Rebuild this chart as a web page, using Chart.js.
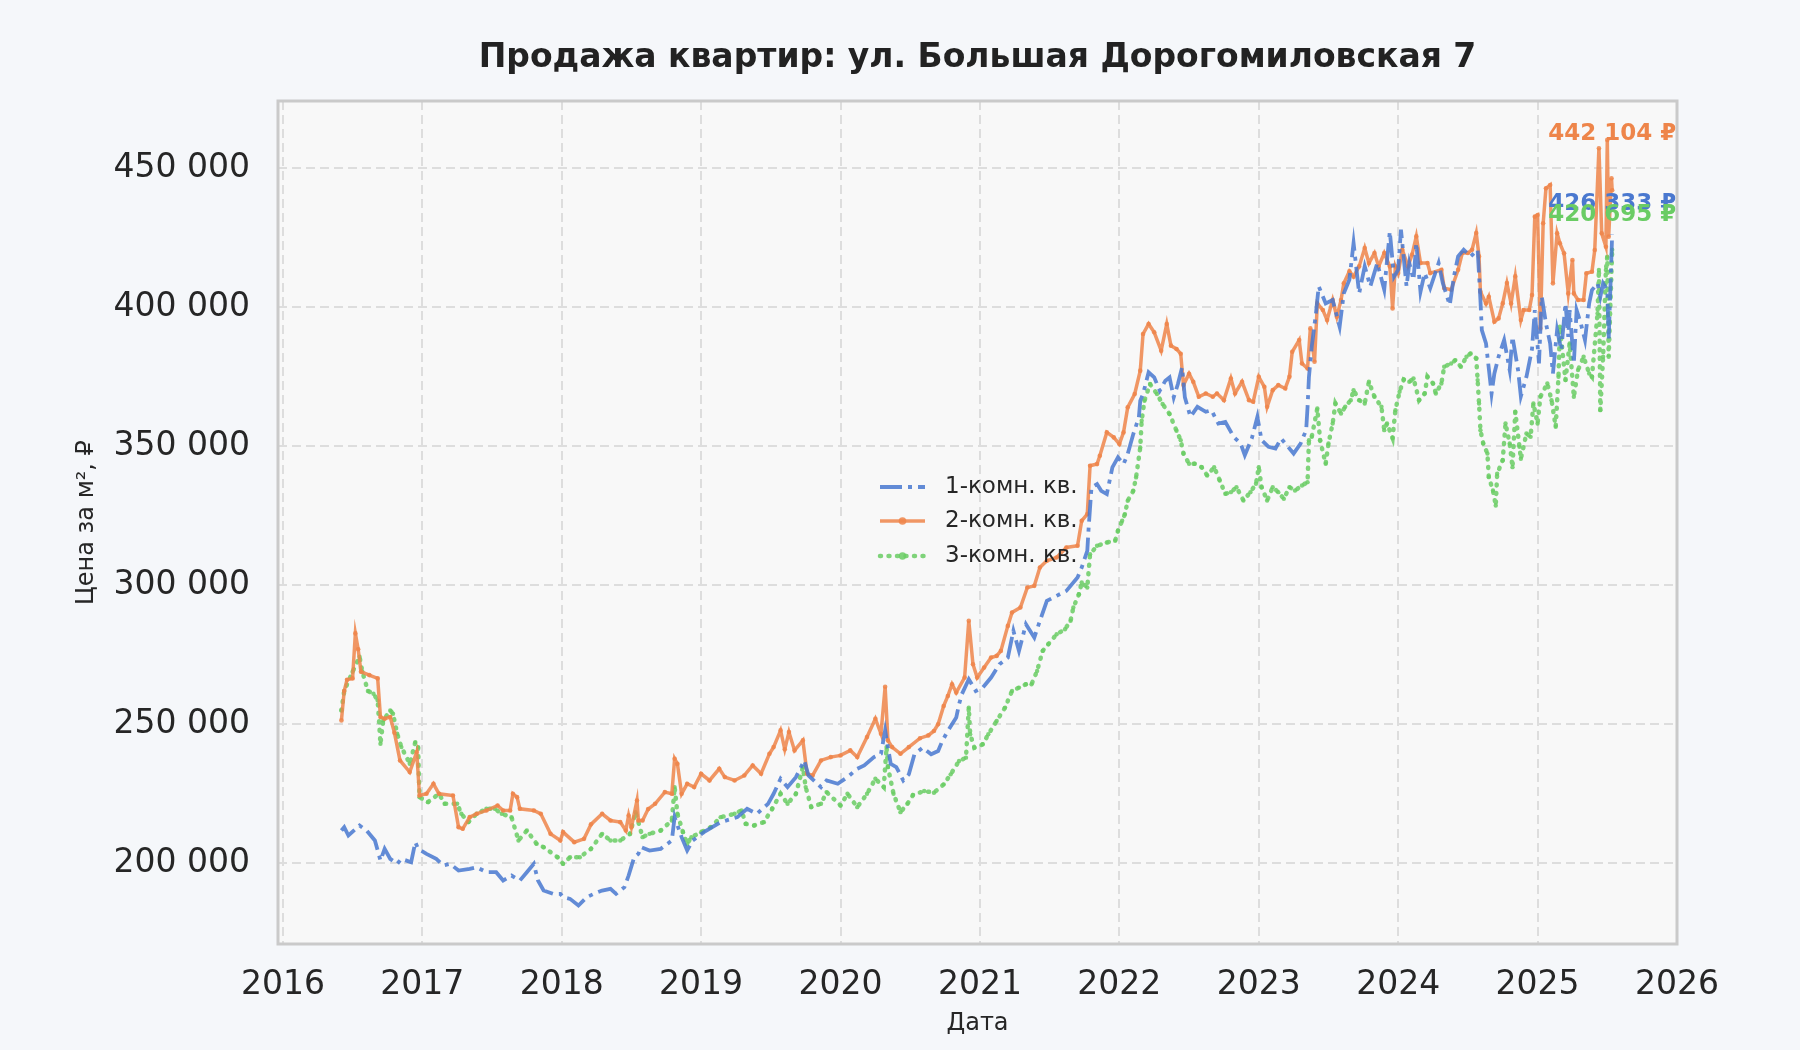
<!DOCTYPE html>
<html lang="ru">
<head>
<meta charset="utf-8">
<title>Продажа квартир</title>
<script src="https://cdn.jsdelivr.net/npm/chart.js@4.4.1/dist/chart.umd.min.js"></script>
<style>
  html, body { margin: 0; padding: 0; background: #f5f7fa; }
  #wrap { width: 1800px; height: 1050px; }
</style>
</head>
<body>
<div id="wrap"><canvas id="priceChart" width="1800" height="1050"></canvas></div>
<script>
// ================= DATA =================
const chartTitle = "Продажа квартир: ул. Большая Дорогомиловская 7";
const seriesLabels = ["1-комн. кв.", "2-комн. кв.", "3-комн. кв."];

const yearTicks = [2016, 2017, 2018, 2019, 2020, 2021, 2022, 2023, 2024, 2025, 2026];
const priceTicks = [200000, 250000, 300000, 350000, 400000, 450000];

// 1-комн.
const oneRoomYears = [
  2016.42, 2016.44, 2016.47, 2016.55, 2016.60, 2016.66, 2016.70, 2016.73, 2016.77, 2016.82,
  2016.85, 2016.92, 2016.95, 2016.97, 2017.03, 2017.10, 2017.15, 2017.20, 2017.26, 2017.34,
  2017.39, 2017.46, 2017.53, 2017.58, 2017.64, 2017.70, 2017.75, 2017.80, 2017.83, 2017.87,
  2017.94, 2017.99, 2018.01, 2018.06, 2018.12, 2018.18, 2018.23, 2018.29, 2018.35, 2018.39,
  2018.45, 2018.48, 2018.52, 2018.55, 2018.57, 2018.63, 2018.71, 2018.79, 2018.81, 2018.86,
  2018.90, 2018.94, 2019.02, 2019.14, 2019.26, 2019.33, 2019.40, 2019.48, 2019.52, 2019.57,
  2019.62, 2019.68, 2019.74, 2019.77, 2019.86, 2019.90, 2019.98, 2020.05, 2020.12, 2020.17,
  2020.24, 2020.29, 2020.32, 2020.36, 2020.40, 2020.45, 2020.49, 2020.53, 2020.59, 2020.65,
  2020.70, 2020.73, 2020.77, 2020.83, 2020.85, 2020.87, 2020.92, 2020.97, 2021.02, 2021.08,
  2021.14, 2021.20, 2021.24, 2021.28, 2021.33, 2021.39, 2021.43, 2021.48, 2021.55, 2021.62,
  2021.70, 2021.73, 2021.77, 2021.78, 2021.80, 2021.84, 2021.87, 2021.91, 2021.95, 2021.99,
  2022.03, 2022.06, 2022.10, 2022.14, 2022.15, 2022.17, 2022.21, 2022.25, 2022.29, 2022.33,
  2022.36, 2022.39, 2022.42, 2022.45, 2022.47, 2022.51, 2022.56, 2022.62, 2022.66, 2022.71,
  2022.76, 2022.82, 2022.87, 2022.90, 2022.95, 2022.99, 2023.02, 2023.07, 2023.12, 2023.16,
  2023.20, 2023.25, 2023.30, 2023.34, 2023.35, 2023.36, 2023.38, 2023.41, 2023.43, 2023.48,
  2023.53, 2023.58, 2023.61, 2023.65, 2023.68, 2023.72, 2023.76, 2023.80, 2023.85, 2023.90,
  2023.94, 2023.97, 2024.00, 2024.02, 2024.06, 2024.08, 2024.11, 2024.13, 2024.16, 2024.19,
  2024.23, 2024.29, 2024.32, 2024.37, 2024.40, 2024.43, 2024.47, 2024.52, 2024.57, 2024.59,
  2024.60, 2024.63, 2024.67, 2024.69, 2024.72, 2024.76, 2024.80, 2024.82, 2024.86, 2024.88,
  2024.92, 2024.96, 2024.98, 2025.01, 2025.03, 2025.06, 2025.09, 2025.11, 2025.14, 2025.17,
  2025.20, 2025.22, 2025.23, 2025.26, 2025.28, 2025.31, 2025.34, 2025.37, 2025.39, 2025.43,
  2025.45, 2025.47, 2025.50, 2025.51, 2025.535
];
const oneRoomPrices = [
  211800, 213000, 210000, 213600, 211800, 208200, 201000, 205200, 201600, 199800,
  201600, 200400, 207600, 205200, 203400, 201600, 199200, 199800, 197400, 198000,
  198600, 196800, 196800, 193800, 195600, 193800, 196800, 199800, 193800, 190200,
  189000, 189000, 187800, 187200, 184800, 187800, 189000, 190200, 190800, 189000,
  191400, 195600, 202200, 203400, 205800, 204600, 205200, 208200, 216600, 209400,
  204600, 208200, 211200, 214800, 216600, 219600, 217800, 221400, 225000, 230400,
  227400, 231000, 237000, 231600, 227400, 229800, 228600, 231000, 234000, 235200,
  238200, 239400, 247800, 235800, 234600, 229800, 232000, 239200, 241600, 239200,
  240400, 244000, 247600, 252400, 257200, 260800, 266200, 262000, 263200, 266800,
  271600, 274000, 283600, 276400, 286000, 281200, 287200, 294400, 296200, 298000,
  302800, 306400, 312400, 320800, 335200, 336400, 334000, 332800, 342400, 346000,
  343600, 347200, 354400, 360400, 366400, 368800, 376600, 374800, 370000, 373600,
  374800, 367600, 372400, 378400, 367600, 360600, 364200, 362400, 363000, 358200,
  358800, 353400, 351000, 346800, 352800, 360600, 352200, 349800, 349200, 352800,
  350400, 347400, 351000, 355800, 364200, 375000, 385800, 397800, 407500, 401400,
  402600, 393000, 405000, 409900, 423100, 405000, 414700, 407500, 415900, 406300,
  427300, 411000, 413500, 427900, 407500, 415900, 409900, 423100, 405600, 412300,
  406900, 415900, 408700, 400800, 411100, 418300, 420700, 418300, 420700, 402600,
  391800, 387000, 369000, 376200, 382200, 388200, 377400, 389400, 377400, 368000,
  375000, 385000, 399000, 379800, 403800, 394200, 387000, 376200, 391800, 384600,
  401400, 389400, 399000, 379800, 399000, 394200, 388200, 401400, 406200, 408600,
  403800, 408600, 406200, 388200, 426333
];

// 2-комн.
const twoRoomYears = [
  2016.42, 2016.44, 2016.46, 2016.50, 2016.52, 2016.54, 2016.56, 2016.62, 2016.68, 2016.70,
  2016.73, 2016.77, 2016.80, 2016.84, 2016.91, 2016.96, 2016.98, 2017.03, 2017.08, 2017.12,
  2017.22, 2017.26, 2017.29, 2017.34, 2017.39, 2017.46, 2017.54, 2017.58, 2017.63, 2017.65,
  2017.68, 2017.70, 2017.80, 2017.85, 2017.92, 2017.99, 2018.01, 2018.09, 2018.16, 2018.21,
  2018.29, 2018.35, 2018.42, 2018.46, 2018.48, 2018.50, 2018.54, 2018.55, 2018.58, 2018.62,
  2018.67, 2018.74, 2018.79, 2018.81, 2018.83, 2018.86, 2018.90, 2018.95, 2019.00, 2019.06,
  2019.13, 2019.17, 2019.24, 2019.31, 2019.37, 2019.43, 2019.49, 2019.52, 2019.57, 2019.60,
  2019.63, 2019.67, 2019.73, 2019.76, 2019.80, 2019.86, 2019.93, 2020.00, 2020.07, 2020.12,
  2020.19, 2020.25, 2020.29, 2020.32, 2020.34, 2020.37, 2020.43, 2020.49, 2020.57, 2020.63,
  2020.67, 2020.70, 2020.74, 2020.77, 2020.80, 2020.83, 2020.89, 2020.92, 2020.95, 2020.98,
  2021.03, 2021.08, 2021.12, 2021.15, 2021.20, 2021.23, 2021.29, 2021.34, 2021.39, 2021.43,
  2021.48, 2021.55, 2021.62, 2021.70, 2021.73, 2021.77, 2021.79, 2021.84, 2021.86, 2021.91,
  2021.96, 2022.00, 2022.03, 2022.06, 2022.11, 2022.15, 2022.17, 2022.21, 2022.25, 2022.30,
  2022.34, 2022.37, 2022.41, 2022.44, 2022.46, 2022.50, 2022.53, 2022.57, 2022.62, 2022.67,
  2022.70, 2022.75, 2022.80, 2022.83, 2022.88, 2022.93, 2022.96, 2023.00, 2023.04, 2023.06,
  2023.10, 2023.14, 2023.19, 2023.22, 2023.24, 2023.29, 2023.31, 2023.35, 2023.37, 2023.40,
  2023.42, 2023.46, 2023.49, 2023.53, 2023.56, 2023.59, 2023.61, 2023.65, 2023.68, 2023.72,
  2023.76, 2023.79, 2023.83, 2023.86, 2023.90, 2023.94, 2023.96, 2023.98, 2024.00, 2024.03,
  2024.07, 2024.10, 2024.13, 2024.16, 2024.21, 2024.23, 2024.31, 2024.33, 2024.38, 2024.43,
  2024.46, 2024.50, 2024.53, 2024.56, 2024.58, 2024.59, 2024.63, 2024.65, 2024.69, 2024.72,
  2024.75, 2024.78, 2024.81, 2024.84, 2024.88, 2024.90, 2024.94, 2024.96, 2024.98, 2025.00,
  2025.02, 2025.04, 2025.06, 2025.09, 2025.11, 2025.14, 2025.16, 2025.19, 2025.22, 2025.25,
  2025.26, 2025.29, 2025.33, 2025.35, 2025.39, 2025.41, 2025.44, 2025.46, 2025.49, 2025.50,
  2025.51, 2025.53, 2025.535
];
const twoRoomPrices = [
  251400, 262000, 266000, 266500, 282700, 277000, 268900, 267700, 266500, 252600,
  252000, 252600, 247000, 237000, 232800, 240000, 224400, 225000, 228600, 225000,
  224400, 213000, 212400, 216600, 217800, 219000, 220800, 219000, 219000, 225000,
  223800, 219600, 219000, 217800, 210600, 208200, 211200, 207600, 208800, 214000,
  217800, 215400, 214800, 211800, 217200, 213000, 222600, 215400, 215400, 219500,
  221400, 225600, 225000, 237600, 235800, 225000, 228600, 227400, 232200, 229800,
  234000, 231000, 229800, 231600, 235200, 232200, 239400, 241800, 247800, 241000,
  247200, 240600, 244200, 232200, 231600, 237000, 238200, 238800, 240600, 238200,
  245400, 252000, 246600, 263500, 244200, 241800, 239400, 241800, 245000, 246000,
  247600, 250000, 256600, 260200, 264400, 261400, 266800, 287200, 271600, 266800,
  270400, 274000, 274600, 276400, 285400, 290200, 292000, 299200, 299800, 306400,
  308800, 310000, 313600, 314200, 323200, 325600, 343000, 343600, 346600, 355000,
  353200, 350800, 355000, 364000, 368800, 377200, 390400, 394000, 391000, 384400,
  394000, 386200, 385000, 383300, 372000, 376100, 373200, 367800, 369000, 367800,
  369000, 366600, 374400, 369000, 373200, 366600, 366000, 375000, 371400, 364200,
  370200, 372000, 370800, 375000, 384000, 388200, 379800, 378000, 392400, 380400,
  401400, 399000, 395400, 402600, 396600, 402600, 408600, 412900, 411000, 414700,
  421300, 415900, 419500, 414700, 419500, 414700, 399600, 414700, 412300, 420700,
  414700, 419000, 425500, 415900, 415900, 412300, 413500, 406900, 406300, 413500,
  419500, 419500, 420700, 426700, 418300, 405600, 401400, 403800, 394800, 396000,
  401400, 408700, 401400, 411100, 395400, 399000, 399000, 404400, 432600, 433200,
  392400, 430200, 442800, 444000, 408600, 426600, 423000, 419400, 405000, 417000,
  405000, 402600, 402600, 412200, 412800, 420600, 457200, 426600, 421800, 460200,
  425400, 446400, 442104
];

// 3-комн.
const threeRoomYears = [
  2016.42, 2016.44, 2016.50, 2016.55, 2016.57, 2016.61, 2016.65, 2016.68, 2016.70, 2016.72,
  2016.77, 2016.79, 2016.82, 2016.85, 2016.91, 2016.95, 2016.97, 2016.98, 2017.04, 2017.12,
  2017.16, 2017.25, 2017.28, 2017.33, 2017.39, 2017.46, 2017.52, 2017.57, 2017.64, 2017.69,
  2017.75, 2017.82, 2017.87, 2017.97, 2018.01, 2018.06, 2018.13, 2018.21, 2018.29, 2018.35,
  2018.42, 2018.49, 2018.53, 2018.58, 2018.63, 2018.71, 2018.79, 2018.81, 2018.83, 2018.87,
  2018.90, 2018.93, 2019.00, 2019.07, 2019.14, 2019.24, 2019.29, 2019.32, 2019.38, 2019.45,
  2019.51, 2019.57, 2019.62, 2019.68, 2019.73, 2019.75, 2019.79, 2019.86, 2019.90, 2020.00,
  2020.05, 2020.12, 2020.19, 2020.25, 2020.31, 2020.33, 2020.34, 2020.38, 2020.43, 2020.48,
  2020.52, 2020.60, 2020.67, 2020.74, 2020.79, 2020.85, 2020.90, 2020.92, 2020.93, 2020.96,
  2021.02, 2021.06, 2021.12, 2021.18, 2021.23, 2021.28, 2021.33, 2021.37, 2021.41, 2021.45,
  2021.49, 2021.55, 2021.61, 2021.65, 2021.67, 2021.71, 2021.73, 2021.77, 2021.79, 2021.84,
  2021.91, 2021.97, 2021.99, 2022.02, 2022.04, 2022.06, 2022.10, 2022.12, 2022.15, 2022.16,
  2022.18, 2022.22, 2022.27, 2022.31, 2022.36, 2022.41, 2022.44, 2022.46, 2022.50, 2022.54,
  2022.59, 2022.63, 2022.68, 2022.72, 2022.76, 2022.80, 2022.84, 2022.89, 2022.94, 2022.98,
  2023.00, 2023.02, 2023.06, 2023.10, 2023.14, 2023.18, 2023.22, 2023.26, 2023.31, 2023.35,
  2023.36, 2023.38, 2023.42, 2023.44, 2023.48, 2023.50, 2023.53, 2023.55, 2023.59, 2023.62,
  2023.66, 2023.68, 2023.72, 2023.76, 2023.79, 2023.83, 2023.88, 2023.90, 2023.92, 2023.96,
  2023.98, 2024.01, 2024.04, 2024.08, 2024.11, 2024.15, 2024.19, 2024.21, 2024.25, 2024.27,
  2024.31, 2024.33, 2024.38, 2024.41, 2024.45, 2024.49, 2024.52, 2024.56, 2024.57, 2024.58,
  2024.59, 2024.61, 2024.64, 2024.65, 2024.68, 2024.70, 2024.71, 2024.75, 2024.77, 2024.80,
  2024.82, 2024.84, 2024.87, 2024.88, 2024.92, 2024.95, 2024.97, 2025.00, 2025.02, 2025.07,
  2025.10, 2025.13, 2025.15, 2025.16, 2025.20, 2025.23, 2025.26, 2025.29, 2025.33, 2025.37,
  2025.39, 2025.43, 2025.44, 2025.45, 2025.47, 2025.49, 2025.50, 2025.51, 2025.535
];
const threeRoomPrices = [
  255000, 262000, 268900, 274300, 268900, 262000, 261000, 258600, 243000, 251400,
  255000, 253800, 246600, 241800, 235800, 243600, 241800, 223800, 222000, 225000,
  221400, 221400, 217800, 214800, 217800, 219600, 219600, 217800, 216600, 208200,
  211800, 207000, 205800, 202200, 199800, 202200, 202200, 205200, 210600, 208200,
  208200, 210600, 218400, 209400, 210600, 211800, 215400, 227400, 217800, 211200,
  207000, 209400, 211200, 213000, 216600, 217800, 219000, 214200, 213600, 214800,
  219600, 225000, 221400, 225000, 234600, 227400, 220200, 221400, 225600, 220800,
  225000, 220200, 225000, 230400, 227400, 241800, 234600, 225000, 218400, 221400,
  224600, 226000, 225400, 228400, 232000, 236800, 238000, 256000, 246400, 241600,
  242800, 246400, 251200, 256000, 262000, 263200, 264400, 264400, 269200, 276400,
  278800, 282400, 284200, 287200, 292000, 296800, 301000, 299200, 311200, 314200,
  315400, 316000, 319600, 323200, 325600, 330400, 334000, 338800, 349600, 359200,
  366400, 372400, 368800, 365200, 361600, 355600, 352200, 347400, 343700, 343700,
  342500, 339500, 342500, 337700, 332900, 333500, 335300, 330500, 333500, 336500,
  342500, 335300, 330500, 335300, 333500, 331100, 335300, 334100, 335900, 337100,
  352200, 353400, 363600, 352200, 343700, 351000, 358200, 365400, 361800, 364200,
  366600, 370200, 366600, 365400, 373200, 367800, 364200, 355800, 358200, 353000,
  363000, 369600, 374000, 373200, 374400, 366600, 369000, 375000, 372600, 369000,
  372600, 378600, 379800, 381000, 378600, 382200, 383400, 381600, 373800, 365400,
  355800, 351000, 347400, 338900, 334100, 328700, 340100, 345000, 358200, 351000,
  342500, 362400, 349800, 345500, 354600, 353400, 365400, 358200, 367800, 372600,
  366600, 357000, 375000, 393000, 373800, 387000, 367800, 377400, 382200, 376200,
  375000, 397800, 413400, 363000, 382200, 413400, 418200, 382200, 420695
];

// ================= STYLE =================
const FONT = "'DejaVu Sans', 'Noto Sans', sans-serif";
const TEXT_COLOR = "#262626";
const PAGE_BG = "#f5f7fa";
const PLOT_BG = "#f8f8f8";
const lineColors = ["rgba(72,120,208,0.85)", "rgba(238,133,74,0.85)", "rgba(106,204,100,0.85)"];
const labelColors = ["#4a78cf", "#ee854a", "#6acc64"];
const lineDashes = [[22, 6, 4, 6], [], [1, 7.5]];
const lastLabelOffsets = [30, 56, 35];

// ================= HELPERS =================
const toPoints = (xs, ys) => xs.map((x, i) => ({ x, y: ys[i] }));
const fmtThousands = (v) => String(v).replace(/\B(?=(\d{3})+(?!\d))/g, " ");

// ================= PLUGINS =================
const backgroundPlugin = {
    id: "backgrounds",
    beforeDraw(chart) {
        const { ctx, chartArea: a } = chart;
        ctx.save();
        ctx.fillStyle = PAGE_BG;
        ctx.fillRect(0, 0, chart.width, chart.height);
        ctx.fillStyle = PLOT_BG;
        ctx.fillRect(a.left, a.top, a.right - a.left, a.bottom - a.top);
        ctx.restore();
    },
    afterDraw(chart) {
        const { ctx, chartArea: a } = chart;
        ctx.save();
        // frame
        ctx.strokeStyle = "#cacaca";
        ctx.lineWidth = 3;
        ctx.strokeRect(a.left, a.top, a.right - a.left, a.bottom - a.top);
        // title
        ctx.fillStyle = "#222222";
        ctx.font = "bold 33px " + FONT;
        ctx.textAlign = "center";
        ctx.textBaseline = "middle";
        ctx.fillText(chartTitle, (a.left + a.right) / 2, 58);
        ctx.restore();
    }
};

const legendPlugin = {
    id: "innerLegend",
    afterDraw(chart) {
        const { ctx } = chart;
        const x0 = 880, x1 = 925, textX = 945;
        const rows = [487, 521, 556];
        ctx.save();
        chart.data.datasets.forEach((ds, i) => {
            const y = rows[i];
            ctx.strokeStyle = ds.borderColor;
            ctx.lineWidth = ds.borderWidth;
            ctx.lineCap = ds.borderCapStyle;
            ctx.setLineDash(ds.borderDash);
            ctx.beginPath();
            ctx.moveTo(x0, y);
            ctx.lineTo(x1, y);
            ctx.stroke();
            ctx.setLineDash([]);
            if (ds.pointRadius > 0) {
                ctx.fillStyle = ds.pointBackgroundColor;
                ctx.beginPath();
                ctx.arc((x0 + x1) / 2, y, ds.pointRadius + 1.5, 0, Math.PI * 2);
                ctx.fill();
            }
            ctx.fillStyle = TEXT_COLOR;
            ctx.font = "23px " + FONT;
            ctx.textAlign = "left";
            ctx.textBaseline = "middle";
            ctx.fillText(ds.label, textX, y);
        });
        ctx.restore();
    }
};

const lastValuePlugin = {
    id: "lastValues",
    afterDatasetsDraw(chart) {
        const { ctx } = chart;
        ctx.save();
        ctx.font = "bold 23px " + FONT;
        ctx.textAlign = "center";
        ctx.textBaseline = "middle";
        chart.data.datasets.forEach((ds, i) => {
            const meta = chart.getDatasetMeta(i);
            const el = meta.data[meta.data.length - 1];
            const value = ds.data[ds.data.length - 1].y;
            ctx.fillStyle = labelColors[i];
            ctx.fillText(fmtThousands(value) + " ₽", el.x, el.y - lastLabelOffsets[i]);
        });
        ctx.restore();
    }
};

// ================= CHART =================
function makeDataset(i, xs, ys, pointRadius, width, cap) {
    return {
        label: seriesLabels[i],
        data: toPoints(xs, ys),
        borderColor: lineColors[i],
        borderWidth: width,
        borderDash: lineDashes[i],
        borderCapStyle: cap,
        pointRadius: pointRadius,
        pointBackgroundColor: lineColors[i],
        pointBorderWidth: 0,
        tension: 0,
        fill: false
    };
}

const ctx = document.getElementById("priceChart").getContext("2d");

new Chart(ctx, {
    type: "line",
    data: {
        datasets: [
            makeDataset(0, oneRoomYears, oneRoomPrices, 0, 3.8, "butt"),
            makeDataset(1, twoRoomYears, twoRoomPrices, 2.3, 3.5, "butt"),
            makeDataset(2, threeRoomYears, threeRoomPrices, 2.2, 4.5, "round")
        ]
    },
    plugins: [backgroundPlugin, legendPlugin, lastValuePlugin],
    options: {
        responsive: false,
        animation: false,
        devicePixelRatio: 1,
        layout: { padding: { top: 101, right: 123, bottom: 0, left: 0 } },
        plugins: {
            legend: { display: false },
            title: { display: false },
            tooltip: { enabled: false }
        },
        scales: {
            x: {
                type: "linear",
                min: 2015.965,
                max: 2026,
                afterFit(scale) { scale.height = 106; },
                afterBuildTicks(scale) { scale.ticks = yearTicks.map(v => ({ value: v })); },
                ticks: {
                    font: { family: FONT, size: 33 },
                    color: TEXT_COLOR,
                    padding: 22,
                    maxRotation: 0,
                    autoSkip: false,
                    callback: (v) => String(v)
                },
                grid: { color: "#dddddd", lineWidth: 2, drawTicks: false },
                border: { display: false, dash: [9, 5] },
                title: {
                    display: true,
                    text: "Дата",
                    color: TEXT_COLOR,
                    font: { family: FONT, size: 24 },
                    padding: { top: 0, bottom: 12 }
                }
            },
            y: {
                type: "linear",
                min: 170970,
                max: 474200,
                afterFit(scale) { scale.width = 278; },
                afterBuildTicks(scale) { scale.ticks = priceTicks.map(v => ({ value: v })); },
                ticks: {
                    font: { family: FONT, size: 33 },
                    color: TEXT_COLOR,
                    padding: 28,
                    autoSkip: false,
                    callback: (v) => fmtThousands(v)
                },
                grid: { color: "#dddddd", lineWidth: 2, drawTicks: false },
                border: { display: false, dash: [9, 5] },
                title: {
                    display: true,
                    text: "Цена за м², ₽",
                    color: TEXT_COLOR,
                    font: { family: FONT, size: 24 },
                    padding: { top: 72, bottom: 0 }
                }
            }
        }
    }
});
</script>
</body>
</html>
